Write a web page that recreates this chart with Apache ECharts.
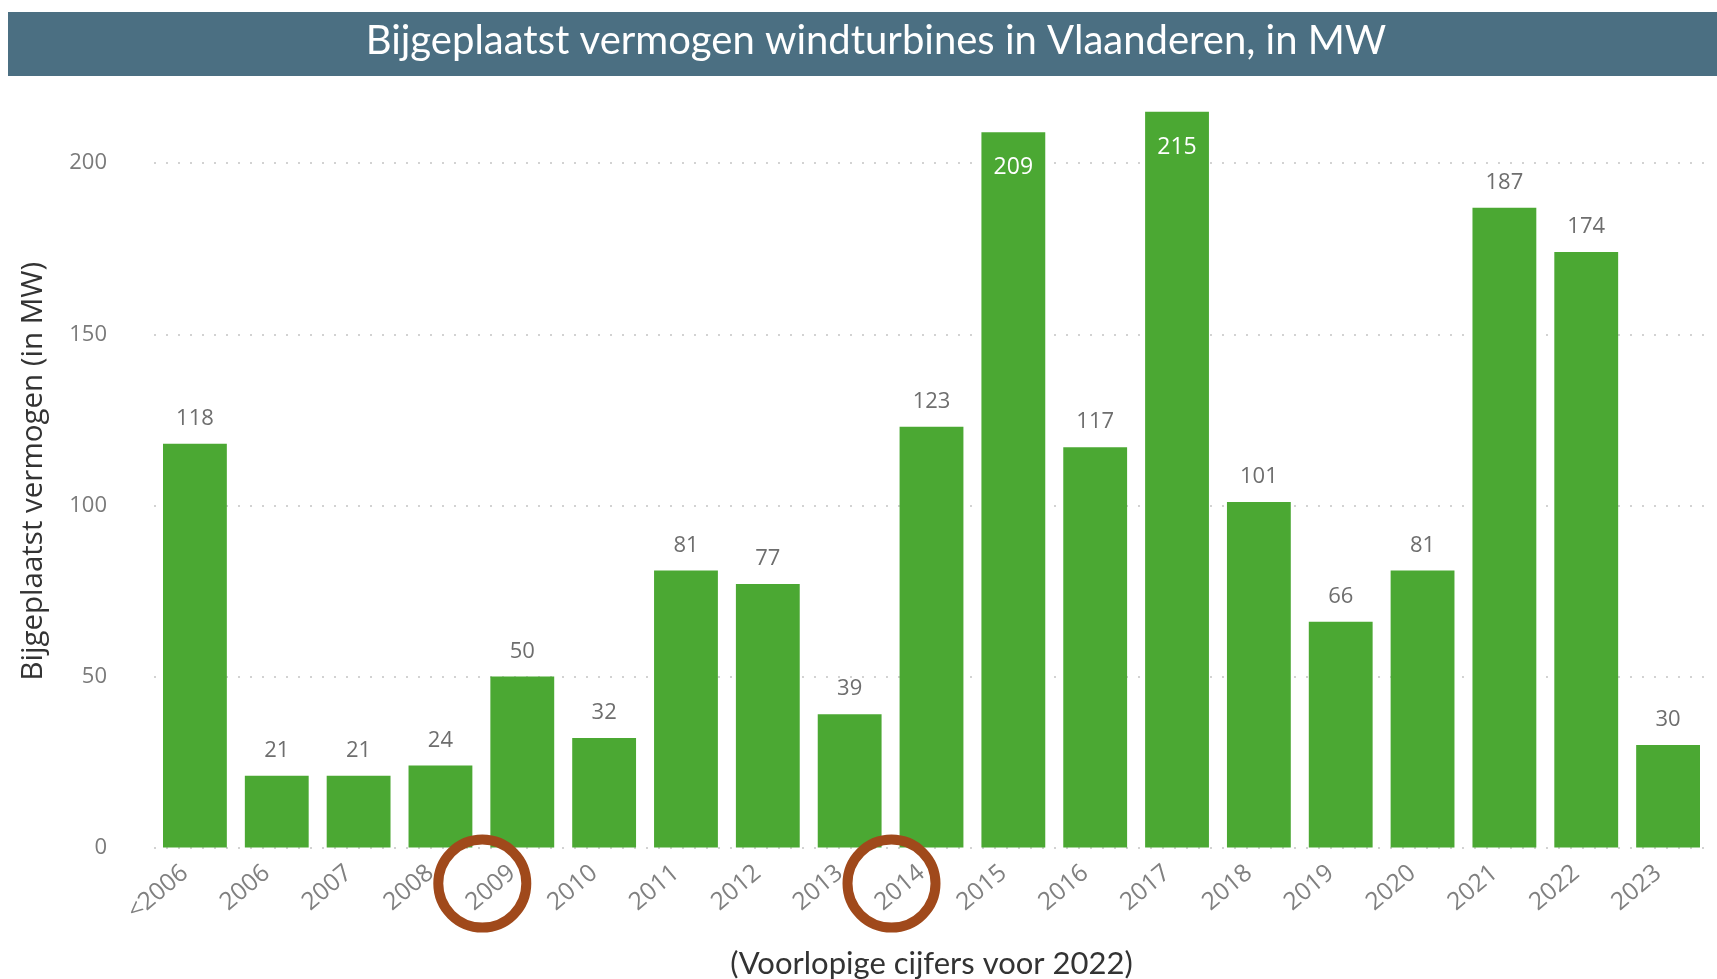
<!DOCTYPE html>
<html>
<head>
<meta charset="utf-8">
<script src="https://cdn.jsdelivr.net/npm/echarts@6/dist/echarts.min.js"></script>
<style>
html,body{margin:0;padding:0;background:#fff;}
#main{width:1717px;height:979px;}
</style>
</head>
<body>
<div id="main"></div>
<script>
const titleText = 'Bijgeplaatst vermogen windturbines in Vlaanderen, in MW';
const yAxisName = 'Bijgeplaatst vermogen (in MW)';
const footnote = '(Voorlopige cijfers voor 2022)';
const categories = ['<2006','2006','2007','2008','2009','2010','2011','2012','2013','2014','2015','2016','2017','2018','2019','2020','2021','2022','2023'];
const values = [118,21,21,24,50,32,81,77,39,123,209,117,215,101,66,81,187,174,30];
const insideLabelCats = ['2015','2017'];
const circledCats = ['2009','2014'];
const yMin = 0, yMax = 220, yInterval = 50;

const chart = echarts.init(document.getElementById('main'), null, {renderer:'canvas'});

const seriesData = values.map((v, i) => {
  const inside = insideLabelCats.includes(categories[i]);
  return {
    value: v,
    label: inside ? {position:'insideTop', distance:24, color:'#ffffff', fontSize:23} : {}
  };
});

const option = {
  animation: false,
  backgroundColor: '#ffffff',
  grid: {left:154, right:8, top:94.7, bottom:131.4, containLabel:false, outerBoundsMode:'none'},
  xAxis: {
    type: 'category',
    data: categories,
    axisLine: {show:false},
    axisTick: {show:false},
    axisLabel: {rotate:40, color:'#808080', fontSize:24.5, fontFamily:'Open Sans', margin:14, padding:[0,13,0,0]},
    name: footnote,
    nameLocation: 'middle',
    nameGap: 101,
    nameTextStyle: {color:'#333333', fontSize:31, fontFamily:'Lato'}
  },
  yAxis: {
    type: 'value',
    min: yMin, max: yMax, interval: yInterval,
    axisLine: {show:false},
    axisTick: {show:false},
    axisLabel: {color:'#7a7a7a', fontSize:22, fontFamily:'Open Sans', margin:47, showMaxLabel:false,
      formatter: v => (v % yInterval === 0 ? String(v) : '')},
    splitLine: {showMaxLine:false, lineStyle:{color:'#c4c4c4', type:[2,10], width:1.5}},
    name: yAxisName,
    nameLocation: 'middle',
    nameGap: 105,
    nameTextStyle: {color:'#333333', fontSize:29.5, fontFamily:'Open Sans'}
  },
  series: [{
    type: 'bar',
    data: seriesData,
    barCategoryGap: '22%',
    itemStyle: {color:'#4ba833'},
    label: {show:true, position:'top', distance:14, color:'#6e6e6e', fontSize:22, fontFamily:'Open Sans'}
  }],
  graphic: [
    {type:'rect', left:8, top:12, shape:{width:1709, height:64}, style:{fill:'#4b6f82'}, z:0},
    {type:'text', x:876, y:41, style:{text:titleText, fill:'#ffffff', font:'40px Lato', textAlign:'center', textVerticalAlign:'middle'}, z:1}
  ]
};
chart.setOption(option);

const y0 = chart.convertToPixel({yAxisIndex:0}, 0);
const circles = circledCats.map(c => {
  const cx = chart.convertToPixel({xAxisIndex:0}, c);
  return {type:'circle', shape:{cx: cx - 40, cy: y0 + 36, r: 44}, style:{fill:'none', stroke:'#a0491b', lineWidth:10}, z:10};
});
chart.setOption({graphic: option.graphic.concat(circles)});
</script>
</body>
</html>
